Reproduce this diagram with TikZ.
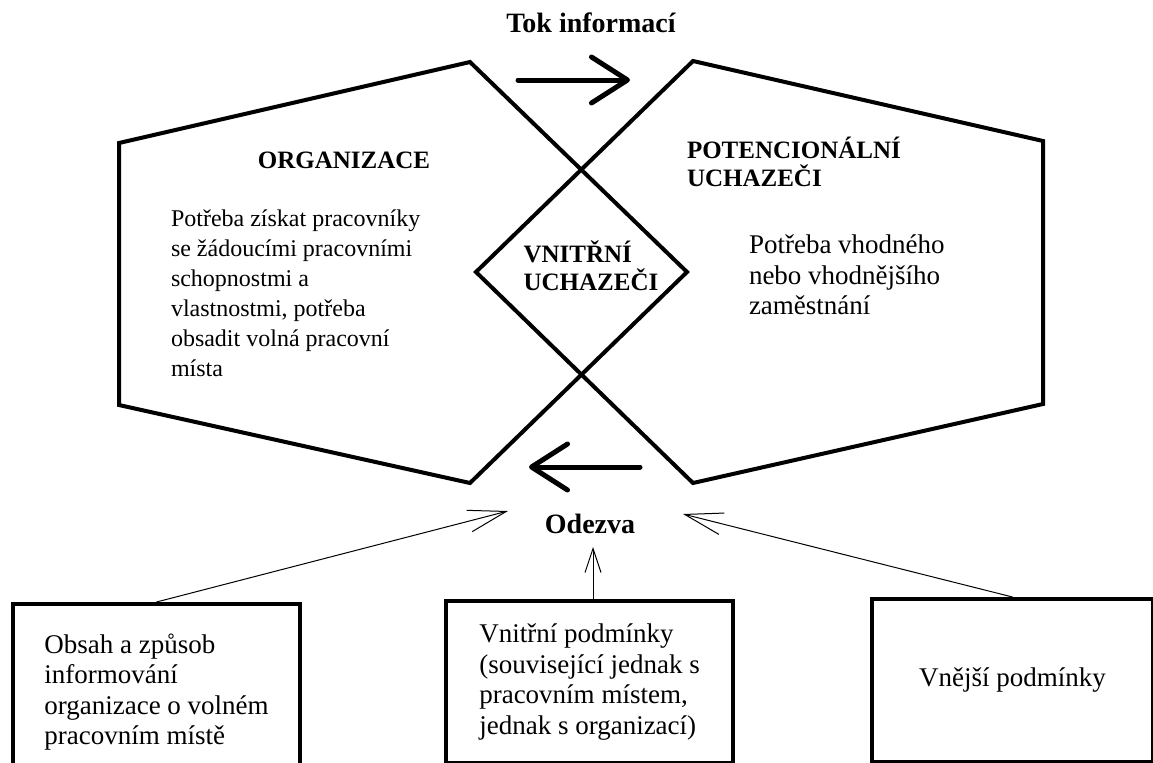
\documentclass[tikz,border=0pt]{standalone}
\usepackage{fontspec}
\setmainfont{Liberation Serif}
\usetikzlibrary{arrows.meta, positioning}

\begin{document}
\begin{tikzpicture}[x=0.5pt, y=-0.5pt, line width=2pt,
    every node/.style={inner sep=0pt, font=\fontsize{12}{15}\selectfont},
    big/.style={font=\fontsize{13.5}{15.2}\selectfont},
    head/.style={font=\fontsize{12.5}{14}\selectfont\bfseries},
    title/.style={font=\fontsize{14}{16}\selectfont\bfseries},
    box/.style={draw, line width=2pt, big, align=left, anchor=north west, minimum width=143.5pt},
    flow/.style={line width=2.5pt, line cap=round, -{Straight Barb[length=18pt, width=23pt, round]}},
    feed/.style={line width=0.5pt, -{Straight Barb[length=19pt, width=11pt]}},
    feedshort/.style={line width=0.5pt, -{Straight Barb[length=12pt, width=8pt]}}]
    \useasboundingbox (0,0) rectangle (1153,762);
    \clip (0,0) rectangle (1153,762);
    \draw (119,143) -- (470,62) -- (687,272) -- (470,483) -- (119,405) -- cycle;
    \draw (693,61) -- (1043,141) -- (1043,404) -- (693,483) -- (476,272) -- cycle;
    \node[title, anchor=base] (tok) at (591,32) {Tok informací};
    \node[head, anchor=base] (org) at (344,168) {ORGANIZACE};
    \node[align=left, anchor=north west] (orgtxt) at (169,208) {Potřeba získat pracovníky\\ se žádoucími pracovními\\ schopnostmi a\\ vlastnostmi, potřeba\\ obsadit volná pracovní\\ místa};
    \node[head, align=left, anchor=north west] (pot) at (685,135) {POTENCIONÁLNÍ\\ UCHAZEČI};
    \node[big, align=left, anchor=north west] (pottxt) at (747,233) {Potřeba vhodného\\ nebo vhodnějšího\\ zaměstnání};
    \node[head, align=left] (uchaz) at (591,266) {VNITŘNÍ\\ UCHAZEČI};
    \node[title, anchor=base] (odezva) at (590,533) {Odezva};
    \coordinate (tokA) at (518,80);
    \coordinate (tokB) at (630,80);
    \coordinate (odzA) at (640,467);
    \coordinate (odzB) at (529,467);
    \draw[flow] (tokA) -- (tokB);
    \draw[flow] (odzA) -- (odzB);
    \node[box, minimum height=88pt] (obsah) at (11,602) {Obsah a způsob\\ informování\\ organizace o volném\\ pracovním místě};
    \node[box, minimum height=81pt] (vnitrni) at (444,599) {Vnitřní podmínky\\ (související jednak s\\ pracovním místem,\\ jednak s organizací)};
    \node[box, minimum width=140.5pt, minimum height=81.5pt, align=center] (vnejsi) at (870,597) {Vnější podmínky};
    \coordinate (in1) at (508,511);
    \coordinate (in2) at (593,547);
    \coordinate (in3) at (683,514);
    \draw[feed] (obsah.north) -- (in1);
    \draw[feedshort] (vnitrni.north -| in2) -- (in2);
    \draw[feed] (vnejsi.north) -- (in3);
\end{tikzpicture}
\end{document}
